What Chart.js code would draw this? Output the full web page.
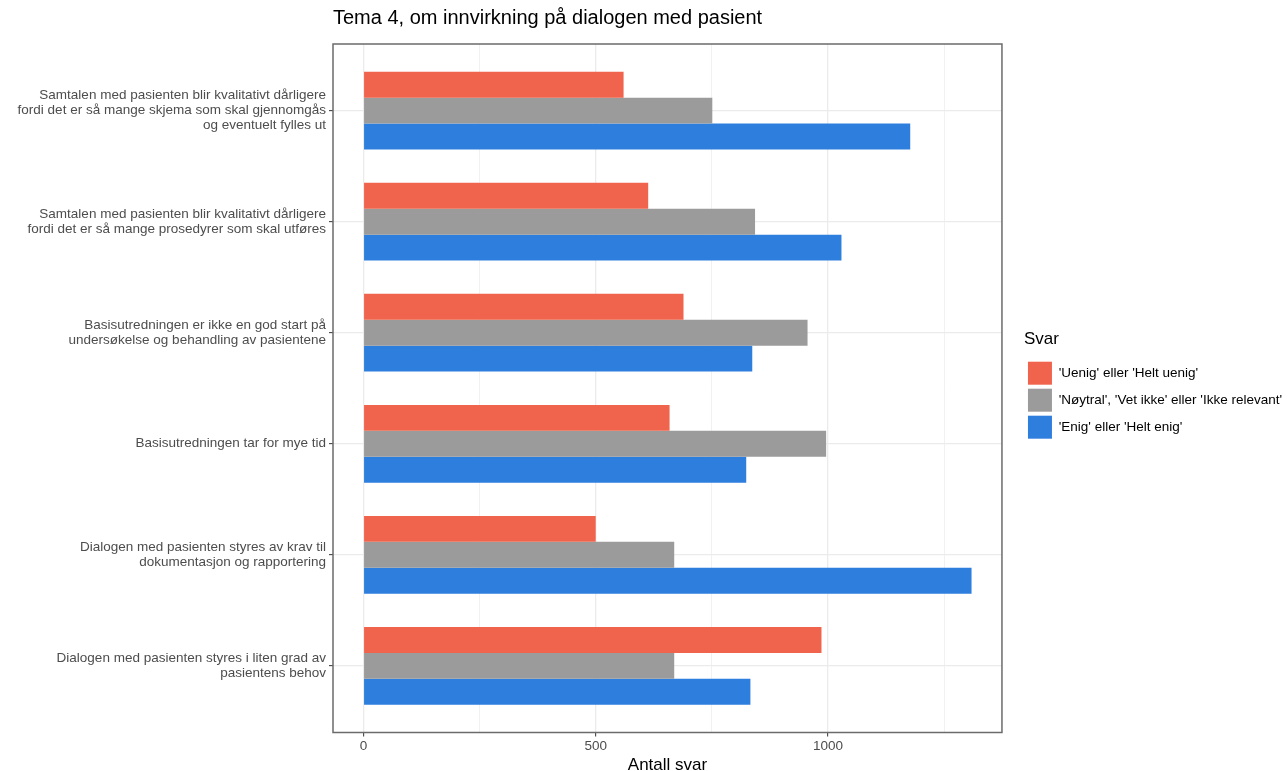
<!DOCTYPE html>
<html>
<head>
<meta charset="utf-8">
<script src="https://cdn.jsdelivr.net/npm/chart.js@4.4.1/dist/chart.umd.min.js"></script>
<style>
  html, body { margin: 0; padding: 0; background: #fff; }
  #wrap { width: 1288px; height: 771px; }
</style>
</head>
<body>
<div id="wrap"><canvas id="chart" width="1288" height="771"></canvas></div>
<script>
// survey statements, one per row (top to bottom)
const categories = [
  ['Samtalen med pasienten blir kvalitativt dårligere', 'fordi det er så mange skjema som skal gjennomgås', 'og eventuelt fylles ut'],
  ['Samtalen med pasienten blir kvalitativt dårligere', 'fordi det er så mange prosedyrer som skal utføres'],
  ['Basisutredningen er ikke en god start på', 'undersøkelse og behandling av pasientene'],
  ['Basisutredningen tar for mye tid'],
  ['Dialogen med pasienten styres av krav til', 'dokumentasjon og rapportering'],
  ['Dialogen med pasienten styres i liten grad av', 'pasientens behov']
];

const seriesNames = [
  "'Uenig' eller 'Helt uenig'",
  "'Nøytral', 'Vet ikke' eller 'Ikke relevant'",
  "'Enig' eller 'Helt enig'"
];

// Antall svar per statement
const uenig   = [560, 613, 689, 659, 500, 986];
const noytral = [751, 843, 956, 996, 669, 669];
const enig    = [1177, 1029, 837, 824, 1309, 833];

const xTicks = [0, 250, 500, 750, 1000, 1250];
const xLabelled = [0, 500, 1000];

const colors = ['#F0644D', '#9B9B9B', '#2E7EDD'];

const FONT = '"Liberation Sans", Arial, Helvetica, sans-serif';
Chart.defaults.font.family = FONT;

// ggplot adds 5% on each side of the data range
const maxVal = Math.max(...uenig, ...noytral, ...enig);
const pad = maxVal * 0.05;

function toPoints(values) {
    return values.map((v, i) => ({ x: v, y: i }));
}

/**
 * Panel border + ggplot-like placement of title and legend
 */
const panelFrame = {
    id: 'panelFrame',
    afterLayout(chart) {
        if (chart.titleBlock) {
            chart.titleBlock.left = chart.chartArea.left;
        }
        const lg = chart.legend;
        lg.left += 22;
        lg.right += 22;
    },
    afterDatasetsDraw(chart) {
        const { ctx, chartArea: a } = chart;
        ctx.save();
        ctx.strokeStyle = '#6b6b6b';
        ctx.lineWidth = 1.5;
        ctx.strokeRect(a.left, a.top, a.right - a.left, a.bottom - a.top);
        ctx.restore();
    }
};

const datasets = [uenig, noytral, enig].map((values, i) => ({
    label: seriesNames[i],
    data: toPoints(values),
    backgroundColor: colors[i],
    borderWidth: 0,
    categoryPercentage: 0.7,
    barPercentage: 1.0
}));

new Chart(document.getElementById('chart'), {
    type: 'bar',
    data: { datasets: datasets },
    plugins: [panelFrame],
    options: {
        indexAxis: 'y',
        responsive: false,
        animation: false,
        layout: { padding: { left: 12, right: 18, top: 0, bottom: -3 } },
        plugins: {
            title: {
                display: true,
                text: 'Tema 4, om innvirkning på dialogen med pasient',
                align: 'start',
                color: '#000',
                font: { size: 20, weight: 'normal', lineHeight: 1.2 },
                padding: { top: 6, bottom: 14 }
            },
            legend: {
                position: 'right',
                align: 'center',
                title: {
                    display: true,
                    text: 'Svar',
                    position: 'start',
                    color: '#000',
                    font: { size: 17 },
                    padding: { top: 0, bottom: 6 }
                },
                labels: {
                    boxWidth: 24,
                    boxHeight: 23,
                    padding: 4,
                    color: '#000',
                    font: { size: 13.5 }
                }
            },
            tooltip: { enabled: false }
        },
        scales: {
            x: {
                type: 'linear',
                bounds: 'data',
                min: -pad,
                max: maxVal + pad,
                afterBuildTicks: scale => {
                    scale.ticks = xTicks.map(v => ({ value: v }));
                },
                ticks: {
                    autoSkip: false,
                    maxRotation: 0,
                    padding: 3,
                    color: '#4d4d4d',
                    font: { size: 13.5, lineHeight: 1 },
                    callback: value => xLabelled.includes(value) ? String(value) : ''
                },
                grid: {
                    offset: false,
                    color: '#EBEBEB',
                    lineWidth: ctx => xLabelled.includes(ctx.tick && ctx.tick.value) ? 1.3 : 0.7,
                    drawTicks: true,
                    tickLength: 4,
                    tickWidth: 1,
                    tickColor: ctx => xLabelled.includes(ctx.tick && ctx.tick.value) ? '#333' : 'rgba(0,0,0,0)'
                },
                border: { display: false },
                title: {
                    display: true,
                    text: 'Antall svar',
                    color: '#000',
                    font: { size: 17, lineHeight: 1 },
                    padding: { top: 1, bottom: 0 }
                }
            },
            y: {
                type: 'linear',
                reverse: true,
                offset: false,
                bounds: 'data',
                min: -0.6,
                max: categories.length - 0.4,
                afterBuildTicks: scale => {
                    scale.ticks = categories.map((c, i) => ({ value: i }));
                },
                // fixed label column so the long statements are not clipped
                afterFit: scale => {
                    scale.width = 321;
                },
                ticks: {
                    autoSkip: false,
                    padding: 3,
                    color: '#4d4d4d',
                    font: { size: 13.5, lineHeight: 1.1 },
                    callback: value => categories[value]
                },
                grid: {
                    offset: false,
                    color: '#EBEBEB',
                    lineWidth: 1.3,
                    drawTicks: true,
                    tickLength: 4,
                    tickWidth: 1,
                    tickColor: '#333'
                },
                border: { display: false }
            }
        }
    }
});
</script>
</body>
</html>
